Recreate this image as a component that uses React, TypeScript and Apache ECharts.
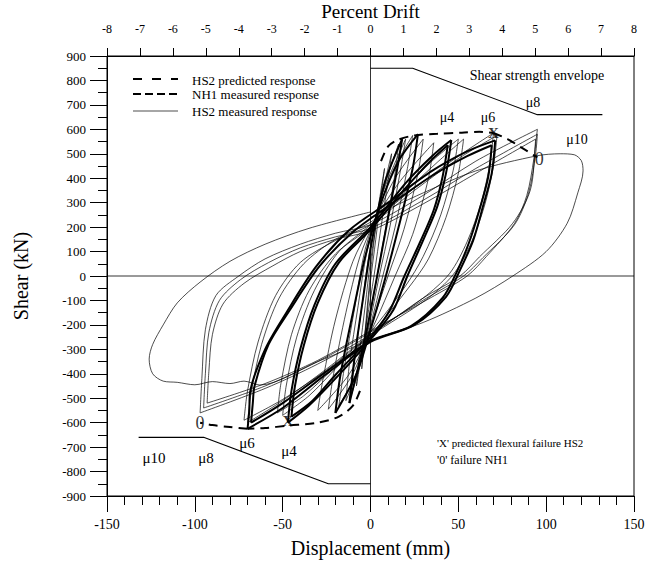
import React, { useEffect, useRef } from "react";
import * as echarts from "echarts";

// ---- axis ticks ----
const dispTicks = [-150, -100, -50, 0, 50, 100, 150];
const driftTicks = [-8, -7, -6, -5, -4, -3, -2, -1, 0, 1, 2, 3, 4, 5, 6, 7, 8];
const shearTicks = [-900, -800, -700, -600, -500, -400, -300, -200, -100, 0, 100, 200, 300, 400, 500, 600, 700, 800, 900];

// ---- shear strength envelope ----
const envelopePos = [[0, 850], [24, 850], [95, 660], [132, 660]];
const envelopeNeg = [[-132, -660], [-95, -660], [-24, -850], [0, -850]];

// ---- dashed responses ----
const predictedPos = [[6, 470], [10, 530], [16, 558], [25, 575], [38, 582], [52, 586], [62, 590], [70, 585]];
const nh1Pos = [[70, 585], [78, 560], [86, 525], [95, 485]];
const predictedNeg = [[-6, -470], [-10, -530], [-18, -575], [-30, -600], [-47, -612], [-60, -622], [-70, -625]];
const nh1Neg = [[-70, -625], [-80, -618], [-90, -610], [-97, -600]];

// ---- HS2 measured response (thin loops) ----
const hs2c1 = [[-5, -380], [-3, -220], [-1, -60], [1, 80], [4, 260], [8, 440], [6, 330], [3, 150], [0, -20], [-2, -160], [-5, -380]];
const hs2c2 = [[-8, -450], [-6, -300], [-3, -120], [0, 60], [5, 280], [12, 500], [10, 390], [6, 200], [2, 0], [-2, -180], [-8, -450]];
const hs2c3 = [[-11, -490], [-9, -340], [-5, -130], [-1, 80], [6, 320], [16, 540], [14, 420], [9, 210], [4, 10], [-1, -190], [-5, -340], [-11, -490]];
const hs2c4 = [[-14, -510], [-12, -360], [-7, -120], [-2, 100], [7, 340], [20, 560], [17, 430], [11, 200], [5, 0], [-1, -210], [-7, -380], [-14, -510]];
const hs2c5 = [[-18, -530], [-15, -380], [-9, -130], [-3, 110], [6, 300], [14, 450], [24, 575], [21, 440], [14, 200], [7, 0], [0, -200], [-8, -400], [-18, -530]];
const hs2c6 = [[-24, -545], [-21, -400], [-14, -150], [-6, 80], [2, 220], [14, 400], [30, 560], [27, 420], [19, 190], [10, 0], [0, -210], [-10, -400], [-24, -545]];
const hs2c7 = [[-30, -550], [-27, -420], [-20, -180], [-10, 60], [0, 200], [16, 380], [36, 545], [33, 400], [24, 170], [14, 0], [2, -200], [-12, -400], [-30, -550]];
const hs2m1 = [[-50, -570], [-48, -450], [-42, -250], [-32, -60], [-18, 100], [0, 210], [20, 360], [35, 470], [50, 560], [47, 430], [40, 250], [30, 80], [20, -40], [0, -230], [-20, -380], [-35, -490], [-50, -570]];
const hs2m2 = [[-53, -560], [-51, -440], [-45, -240], [-35, -60], [-20, 90], [0, 200], [20, 345], [38, 465], [53, 560], [50, 420], [43, 240], [33, 70], [22, -45], [0, -240], [-22, -385], [-38, -490], [-53, -560]];
const hs2s1 = [[-70, -600], [-68, -480], [-62, -280], [-52, -90], [-38, 50], [-20, 150], [0, 220], [25, 360], [50, 490], [70, 585], [68, 460], [63, 300], [55, 140], [45, 10], [30, -90], [0, -240], [-25, -380], [-50, -510], [-70, -600]];
const hs2s2 = [[-72, -590], [-70, -470], [-64, -270], [-54, -80], [-40, 55], [-20, 145], [0, 210], [25, 350], [50, 480], [72, 575], [70, 450], [65, 290], [57, 130], [47, 5], [32, -95], [0, -245], [-25, -385], [-50, -505], [-72, -590]];
const hs2b1 = [[-97, -560], [-96, -420], [-94, -220], [-88, -80], [-75, 0], [-60, 70], [-40, 130], [-20, 175], [0, 210], [30, 330], [60, 470], [95, 600], [94, 540], [91, 352], [81, 216], [62, 78], [51, 0], [30, -90], [0, -240], [-30, -360], [-60, -460], [-97, -560]];
const hs2b2 = [[-95, -540], [-94, -400], [-92, -230], [-86, -100], [-74, -15], [-58, 55], [-40, 115], [-20, 160], [0, 195], [30, 310], [60, 440], [95, 580], [94, 500], [90, 340], [82, 210], [64, 75], [53, 0], [32, -90], [0, -230], [-30, -350], [-60, -450], [-95, -540]];
const hs2b3 = [[-93, -520], [-92, -390], [-90, -240], [-84, -115], [-72, -30], [-56, 40], [-40, 100], [-20, 150], [0, 185], [30, 295], [60, 420], [94, 560], [93, 480], [89, 330], [82, 215], [66, 80], [55, 0], [34, -90], [0, -225], [-30, -345], [-60, -440], [-93, -520]];
const hs2mu10Pos = [[0, 240], [30, 340], [60, 430], [95, 492], [108, 500], [116, 496], [120, 472], [121, 430], [118, 340], [112, 216], [100, 100], [81, 0], [60, -90], [30, -190], [0, -262]];
const hs2mu10Neg = [[0, -262], [-30, -350], [-63, -446], [-72, -430], [-80, -440], [-90, -432], [-100, -445], [-110, -435], [-118, -430], [-124, -400], [-126, -340], [-124, -280], [-118, -200], [-110, -110], [-97, -25], [-80, 60], [-60, 130], [-35, 195], [0, 262]];

// ---- thick measured loops ----
const thickC1 = [[-12, -520], [-9, -330], [-4, -80], [1, 150], [8, 380], [18, 560], [15, 430], [9, 200], [3, -30], [-3, -250], [-12, -520]];
const thickC2 = [[-20, -560], [-17, -400], [-10, -150], [-3, 80], [6, 300], [16, 470], [27, 580], [24, 440], [16, 200], [8, -20], [0, -220], [-8, -400], [-20, -560]];
const thickMu4a = [[-47, -600], [-45, -470], [-40, -300], [-32, -120], [-20, 50], [0, 200], [20, 380], [35, 490], [46, 556], [43, 421], [38, 284], [30, 147], [21, 0], [13, -139], [0, -260], [-20, -420], [-35, -530], [-47, -600]];
const thickMu4b = [[-45, -575], [-43, -450], [-38, -285], [-30, -110], [-18, 55], [0, 190], [20, 360], [34, 470], [44, 535], [41, 405], [36, 270], [28, 135], [19, -5], [11, -140], [0, -250], [-20, -405], [-33, -510], [-45, -575]];
const thickMu6a = [[-70, -625], [-69, -550], [-68.6, -479], [-60, -300], [-48, -151], [-31, 38], [-12, 188], [10, 300], [35, 430], [55, 510], [71, 555], [69, 420], [64, 284], [58.5, 147], [51, 25], [43, -85], [25, -200], [0, -270], [-25, -400], [-50, -540], [-70, -625]];
const thickMu6b = [[-68, -600], [-67, -520], [-66, -450], [-58, -280], [-46, -140], [-29, 40], [-10, 180], [10, 285], [35, 410], [55, 490], [69, 535], [67, 405], [62, 270], [56, 135], [49, 15], [41, -90], [23, -205], [0, -265], [-25, -390], [-50, -520], [-68, -600]];

// ---- failure markers ----
const xMarks = [[70, 585], [-47, -592]];
const oMarks = [[96, 478], [-97, -600]];

const thinLoops = [hs2c1, hs2c2, hs2c3, hs2c4, hs2c5, hs2c6, hs2c7, hs2m1, hs2m2, hs2s1, hs2s2, hs2b1, hs2b2, hs2b3];
const thinPaths = [hs2mu10Pos, hs2mu10Neg];
const thickLoops = [thickC1, thickC2, thickMu4a, thickMu4b, thickMu6a, thickMu6b];

const SERIF = '"Liberation Serif", "DejaVu Serif", serif';

// split a closed loop at its rightmost point so the peaks stay sharp
function splitAtPeak(loop: number[][]): number[][][] {
  let imax = 0;
  loop.forEach((p, i) => {
    if (p[0] > loop[imax][0]) imax = i;
  });
  return [loop.slice(0, imax + 1), loop.slice(imax)];
}

export default function App() {
  const ref = useRef<HTMLDivElement>(null);
  useEffect(() => {
    if (!ref.current) return;
    const chart = echarts.init(ref.current, null, { renderer: "svg" });

    const lineSeries = (data: number[][], width: number, dash?: number[], smooth = 0.35) => ({
      type: "line",
      data,
      xAxisIndex: 0,
      yAxisIndex: 0,
      symbol: "none",
      smooth,
      silent: true,
      lineStyle: { color: "#000", width, type: dash ? dash : "solid" },
    });

    const series: any[] = [];
    series.push(lineSeries([[dispTicks[0], 0], [dispTicks[dispTicks.length - 1], 0]], 0.8, undefined, 0));
    series.push(lineSeries([[0, shearTicks[0]], [0, shearTicks[shearTicks.length - 1]]], 0.8, undefined, 0));
    thinLoops.forEach((l) => splitAtPeak(l).forEach((b) => series.push(lineSeries(b, 0.7, undefined, 0.3))));
    thinPaths.forEach((l) => series.push(lineSeries(l, 0.7, undefined, 0.3)));
    thickLoops.forEach((l) => splitAtPeak(l).forEach((b) => series.push(lineSeries(b, 2, undefined, 0.3))));
    series.push(lineSeries(envelopePos, 1.1, undefined, 0));
    series.push(lineSeries(envelopeNeg, 1.1, undefined, 0));
    series.push(lineSeries(predictedPos, 2, [9, 6], 0.3));
    series.push(lineSeries(nh1Pos, 2, [9, 6], 0.3));
    series.push(lineSeries(predictedNeg, 2, [9, 6], 0.3));
    series.push(lineSeries(nh1Neg, 2, [9, 6], 0.3));
    series.push({
      type: "scatter",
      data: xMarks,
      symbol: "circle",
      symbolSize: 1,
      itemStyle: { color: "transparent" },
      silent: true,
      label: { show: true, position: "inside", formatter: "X", color: "#000", fontSize: 15, fontWeight: "bold", fontFamily: SERIF },
    });
    series.push({
      type: "scatter",
      data: oMarks,
      symbol: "circle",
      symbolSize: 1,
      itemStyle: { color: "transparent" },
      silent: true,
      label: { show: true, position: "inside", formatter: "0", color: "#000", fontSize: 18, fontFamily: SERIF },
    });

    const txt = (text: string, x: number, y: number, size: number, align = "center") => ({
      type: "text",
      x,
      y,
      silent: true,
      style: { text, fill: "#000", font: `${size}px ${SERIF}`, align, verticalAlign: "middle" },
    });
    const seg = (x1: number, y1: number, x2: number, y2: number, w: number, dash?: number[]) => ({
      type: "line",
      silent: true,
      shape: { x1, y1, x2, y2 },
      style: { stroke: "#000", lineWidth: w, lineDash: dash },
    });

    chart.setOption({
      animation: false,
      backgroundColor: "#fff",
      textStyle: { fontFamily: SERIF },
      grid: {
        left: 107,
        right: 14,
        top: 56,
        bottom: 71,
        outerBoundsMode: "none",
        containLabel: false,
        show: true,
        borderColor: "#000",
        borderWidth: 1,
        backgroundColor: "transparent",
      },
      xAxis: [
        {
          type: "value",
          position: "bottom",
          min: dispTicks[0],
          max: dispTicks[dispTicks.length - 1],
          interval: 50,
          axisLine: { show: true, onZero: false, lineStyle: { color: "#000", width: 1 } },
          axisTick: { show: true, length: 16, lineStyle: { color: "#000" } },
          minorTick: { show: true, splitNumber: 5, length: 9, lineStyle: { color: "#000" } },
          splitLine: { show: false },
          axisLabel: { color: "#000", fontSize: 14, margin: 21, fontFamily: SERIF },
          name: "Displacement (mm)",
          nameLocation: "middle",
          nameGap: 42,
          nameTextStyle: { fontSize: 20, color: "#000", fontFamily: SERIF },
        },
        {
          type: "value",
          position: "top",
          min: driftTicks[0],
          max: driftTicks[driftTicks.length - 1],
          interval: 1,
          axisLine: { show: true, onZero: false, lineStyle: { color: "#000", width: 1 } },
          axisTick: { show: true, length: 8, lineStyle: { color: "#000" } },
          splitLine: { show: false },
          axisLabel: { color: "#000", fontSize: 12, margin: 21, fontFamily: SERIF },
          name: "Percent Drift",
          nameLocation: "middle",
          nameGap: 35,
          nameMoveOverlap: false,
          nameTextStyle: { fontSize: 19, color: "#000", fontFamily: SERIF },
        },
      ],
      yAxis: {
        type: "value",
        min: shearTicks[0],
        max: shearTicks[shearTicks.length - 1],
        interval: 100,
        axisLine: { show: true, onZero: false, lineStyle: { color: "#000", width: 1 } },
        axisTick: { show: true, length: 17, lineStyle: { color: "#000" } },
        minorTick: { show: true, splitNumber: 2, length: 9, lineStyle: { color: "#000" } },
        splitLine: { show: false },
        axisLabel: { color: "#000", fontSize: 13, margin: 21, fontFamily: SERIF },
        name: "Shear (kN)",
        nameLocation: "middle",
        nameGap: 76,
        nameRotate: 90,
        nameTextStyle: { fontSize: 20, color: "#000", fontFamily: SERIF },
      },
      series,
      graphic: [
        seg(133, 79, 178, 79, 2, [9, 10]),
        seg(133, 94, 178, 94, 2.2, [8, 4]),
        seg(133, 111, 178, 111, 0.7),
        txt("HS2 predicted response", 192, 80, 13, "left"),
        txt("NH1 measured response", 192, 94, 13, "left"),
        txt("HS2 measured response", 192, 111, 13, "left"),
        txt("Shear strength envelope", 537, 75, 14),
        txt("\u03bc8", 533, 102, 14),
        txt("\u03bc4", 447, 117, 14),
        txt("\u03bc6", 488, 117, 14),
        txt("\u03bc10", 577, 139, 14),
        txt("\u03bc10", 154, 458, 15),
        txt("\u03bc8", 206, 458, 15),
        txt("\u03bc6", 247, 443, 15),
        txt("\u03bc4", 289, 451, 15),
        txt("'X' predicted flexural failure HS2", 437, 443, 11, "left"),
        txt("'0' failure NH1", 437, 460, 12, "left"),
      ],
    });
    return () => chart.dispose();
  }, []);
  return <div ref={ref} style={{ position: "fixed", left: 0, top: 0, width: 648, height: 567 }} />;
}
